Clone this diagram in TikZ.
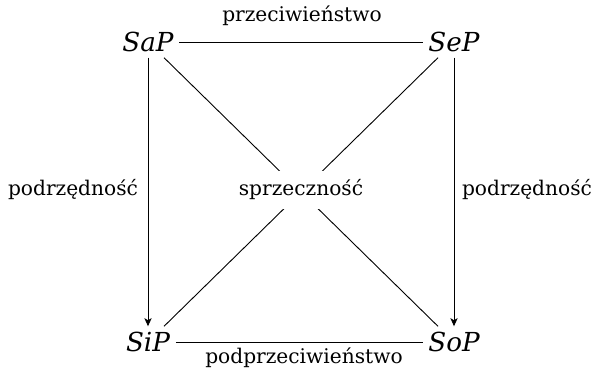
\documentclass[tikz,border=0pt]{standalone}
\usepackage{fontspec}
\setmainfont{DejaVu Serif}
\usetikzlibrary{arrows.meta}
\tikzset{
  term/.style={font=\itshape\Large, inner sep=3pt},
  rel/.style={font=\fontsize{11.1}{13}\selectfont, inner sep=1pt},
  edge/.style={line width=0.5pt},
  arr/.style={edge, -{Stealth[length=4.5pt, width=4pt, inset=1.2pt]}}
}
\begin{document}
\begin{tikzpicture}[x=0.55pt, y=-0.55pt]
  \useasboundingbox (0,0) rectangle (595,370);
  % the four corners of the square of opposition
  \node[term] (SaP) at (148,42) {SaP};
  \node[term] (SeP) at (454,42) {SeP};
  \node[term] (SiP) at (148,342) {SiP};
  \node[term] (SoP) at (454,342) {SoP};
  % relation labels
  \node[rel] (top) at (302,16) {przeciwieństwo};
  \node[rel] (bot) at (304,358) {podprzeciwieństwo};
  \node[rel] (left) at (73,190) {podrzędność};
  \node[rel] (right) at (527,190) {podrzędność};
  \coordinate (mid) at (301,190);
  % edges
  \draw[edge] (SaP) -- (SeP);
  \draw[edge] (SiP) -- (SoP);
  \draw[arr] (SaP) -- (SiP);
  \draw[arr] (SeP) -- (SoP);
  \draw[edge] (SaP) -- (SoP);
  \draw[edge] (SeP) -- (SiP);
  \node[rel, fill=white, inner sep=5pt] (mid label) at (mid) {sprzeczność};
\end{tikzpicture}
\end{document}
